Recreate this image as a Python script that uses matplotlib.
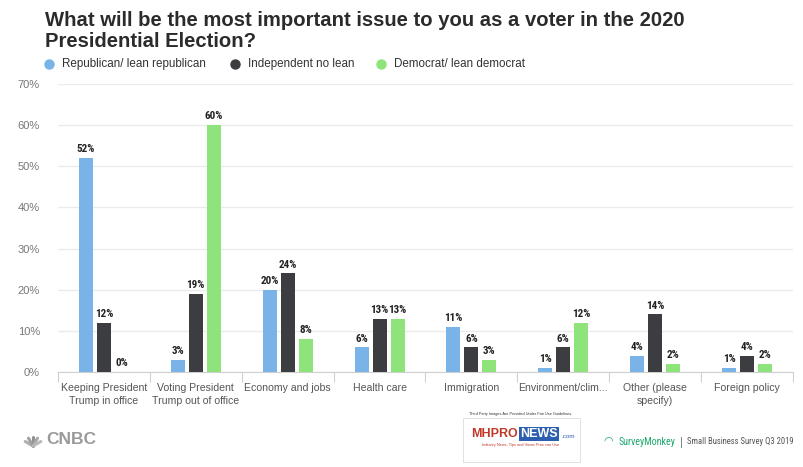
import matplotlib.pyplot as plt
import numpy as np
from matplotlib.patches import Rectangle

categories = ['Keeping President\nTrump in office', 'Voting President\nTrump out of office',
              'Economy and jobs', 'Health care', 'Immigration', 'Environment/clim...',
              'Other (please\nspecify)', 'Foreign policy']
republican = [52, 3, 20, 6, 11, 1, 4, 1]
independent = [12, 19, 24, 13, 6, 6, 14, 4]
democrat = [0, 60, 8, 13, 3, 12, 2, 2]
series_names = ['Republican/ lean republican', 'Independent no lean', 'Democrat/ lean democrat']
colors = ['#7ab3e8', '#3c3d40', '#8ee47a']

plt.rcParams['font.family'] = ['Liberation Sans', 'DejaVu Sans']
condensed = ['Roboto Condensed', 'DejaVu Sans']

W, H = 804, 467
fig = plt.figure(figsize=(W / 100, H / 100), dpi=100)
ax = fig.add_axes([58 / W, 1 - 372 / H, (793 - 58) / W, (372 - 84) / H])


def fx(px):
    return px / W


def fy(py):
    return 1 - py / H


x = np.arange(len(categories))
width = 0.152
step = 0.196
for i, (vals, col) in enumerate(zip([republican, independent, democrat], colors)):
    pos = x + (i - 1) * step
    ax.bar(pos, vals, width, color=col, zorder=3)
    for p, v in zip(pos, vals):
        ax.text(p, v + 0.9, f'{v}%', ha='center', va='bottom', fontsize=8,
                fontweight='bold', color='#222222', family=condensed)

ax.set_xlim(-0.5, len(categories) - 0.5)
ax.set_ylim(0, 70)
ax.set_yticks(range(0, 71, 10))
ax.set_yticklabels([f'{t}%' for t in range(0, 71, 10)], color='#777777', fontsize=8)
ax.yaxis.grid(True, color='#ebebeb', linewidth=1, zorder=0)
ax.tick_params(axis='y', length=0, pad=13)
ax.set_xticks(np.arange(-0.5, len(categories), 1))
ax.set_xticklabels([])
ax.tick_params(axis='x', length=7, color='#d0d0d0', direction='out')
for xi, c in zip(x, categories):
    ax.text(xi, -2.6, c, ha='center', va='top', fontsize=7.6, color='#555555',
            linespacing=1.45)
for s in ['top', 'right', 'left']:
    ax.spines[s].set_visible(False)
ax.spines['bottom'].set_color('#d0d0d0')

# title
fig.text(fx(45), fy(26), 'What will be the most important issue to you as a voter in the 2020',
         ha='left', va='baseline', fontsize=14.6, fontweight='bold', color='#2b2b2b')
fig.text(fx(45), fy(47), 'Presidential Election?',
         ha='left', va='baseline', fontsize=14.6, fontweight='bold', color='#2b2b2b')

# legend
leg_x = [49, 235, 381]
for lx, name, col in zip(leg_x, series_names, colors):
    ax.plot([fx(lx)], [fy(64)], 'o', ms=6.5, color=col, transform=fig.transFigure,
            clip_on=False)
    fig.text(fx(lx + 13), fy(64), name, ha='left', va='center', fontsize=8.4,
             color='#333333')

# footer: CNBC
fig.text(fx(46), fy(440), 'CNBC', ha='left', va='center', fontsize=12.5,
         fontweight='bold', color='#9a9a9a')
for k, c in enumerate(['#b0b0b0', '#a0a0a0', '#909090', '#a8a8a8', '#b8b8b8']):
    ang = np.deg2rad(150 - k * 30)
    ax.plot([fx(33), fx(33 + 9 * np.cos(ang))], [fy(446), fy(446 - 9 * np.sin(ang))],
            color=c, lw=2.2, transform=fig.transFigure, clip_on=False, solid_capstyle='round')

# footer: MHPRONEWS badge
fig.add_artist(Rectangle((fx(463), fy(462)), (580 - 463) / W, (462 - 418) / H,
                         transform=fig.transFigure, facecolor='white', edgecolor='#dddddd', lw=0.6))
fig.text(fx(521), fy(414), 'Third Party Images Are Provided Under Fair Use Guidelines.',
         ha='center', va='center', fontsize=2.8, color='#333333')
ax.plot([fx(470), fx(572)], [fy(421), fy(421)], color='#c0392b', lw=1,
        transform=fig.transFigure, clip_on=False)
ax.plot([fx(470), fx(572)], [fy(451), fy(451)], color='#1a3d8f', lw=1,
        transform=fig.transFigure, clip_on=False)
fig.text(fx(471), fy(434), 'MHPRO', ha='left', va='center', fontsize=9,
         fontweight='bold', color='#c0392b')
fig.text(fx(520), fy(434), 'NEWS', ha='left', va='center', fontsize=9,
         fontweight='bold', color='white',
         bbox=dict(boxstyle='square,pad=0.1', facecolor='#2d5fb0', edgecolor='none'))
fig.text(fx(561), fy(436), '.com', ha='left', va='center', fontsize=4.5, color='#2d5fb0')
fig.text(fx(521), fy(445), 'Industry News, Tips and Views Pros can Use',
         ha='center', va='center', fontsize=2.8, color='#c0392b')

# footer: SurveyMonkey
fig.text(fx(603), fy(441), '\u25e0', ha='left', va='center', fontsize=8,
         color='#19a86b', family='DejaVu Sans')
fig.text(fx(619), fy(442), 'SurveyMonkey', ha='left', va='center', fontsize=7.2,
         color='#19a86b', family=condensed)
fig.text(fx(681), fy(442), '|', ha='center', va='center', fontsize=9,
         color='#777777', family=condensed)
fig.text(fx(794), fy(442), 'Small Business Survey Q3 2019', ha='right',
         va='center', fontsize=6.2, color='#555555', family=condensed)

fig.savefig('out.png', dpi=100)
